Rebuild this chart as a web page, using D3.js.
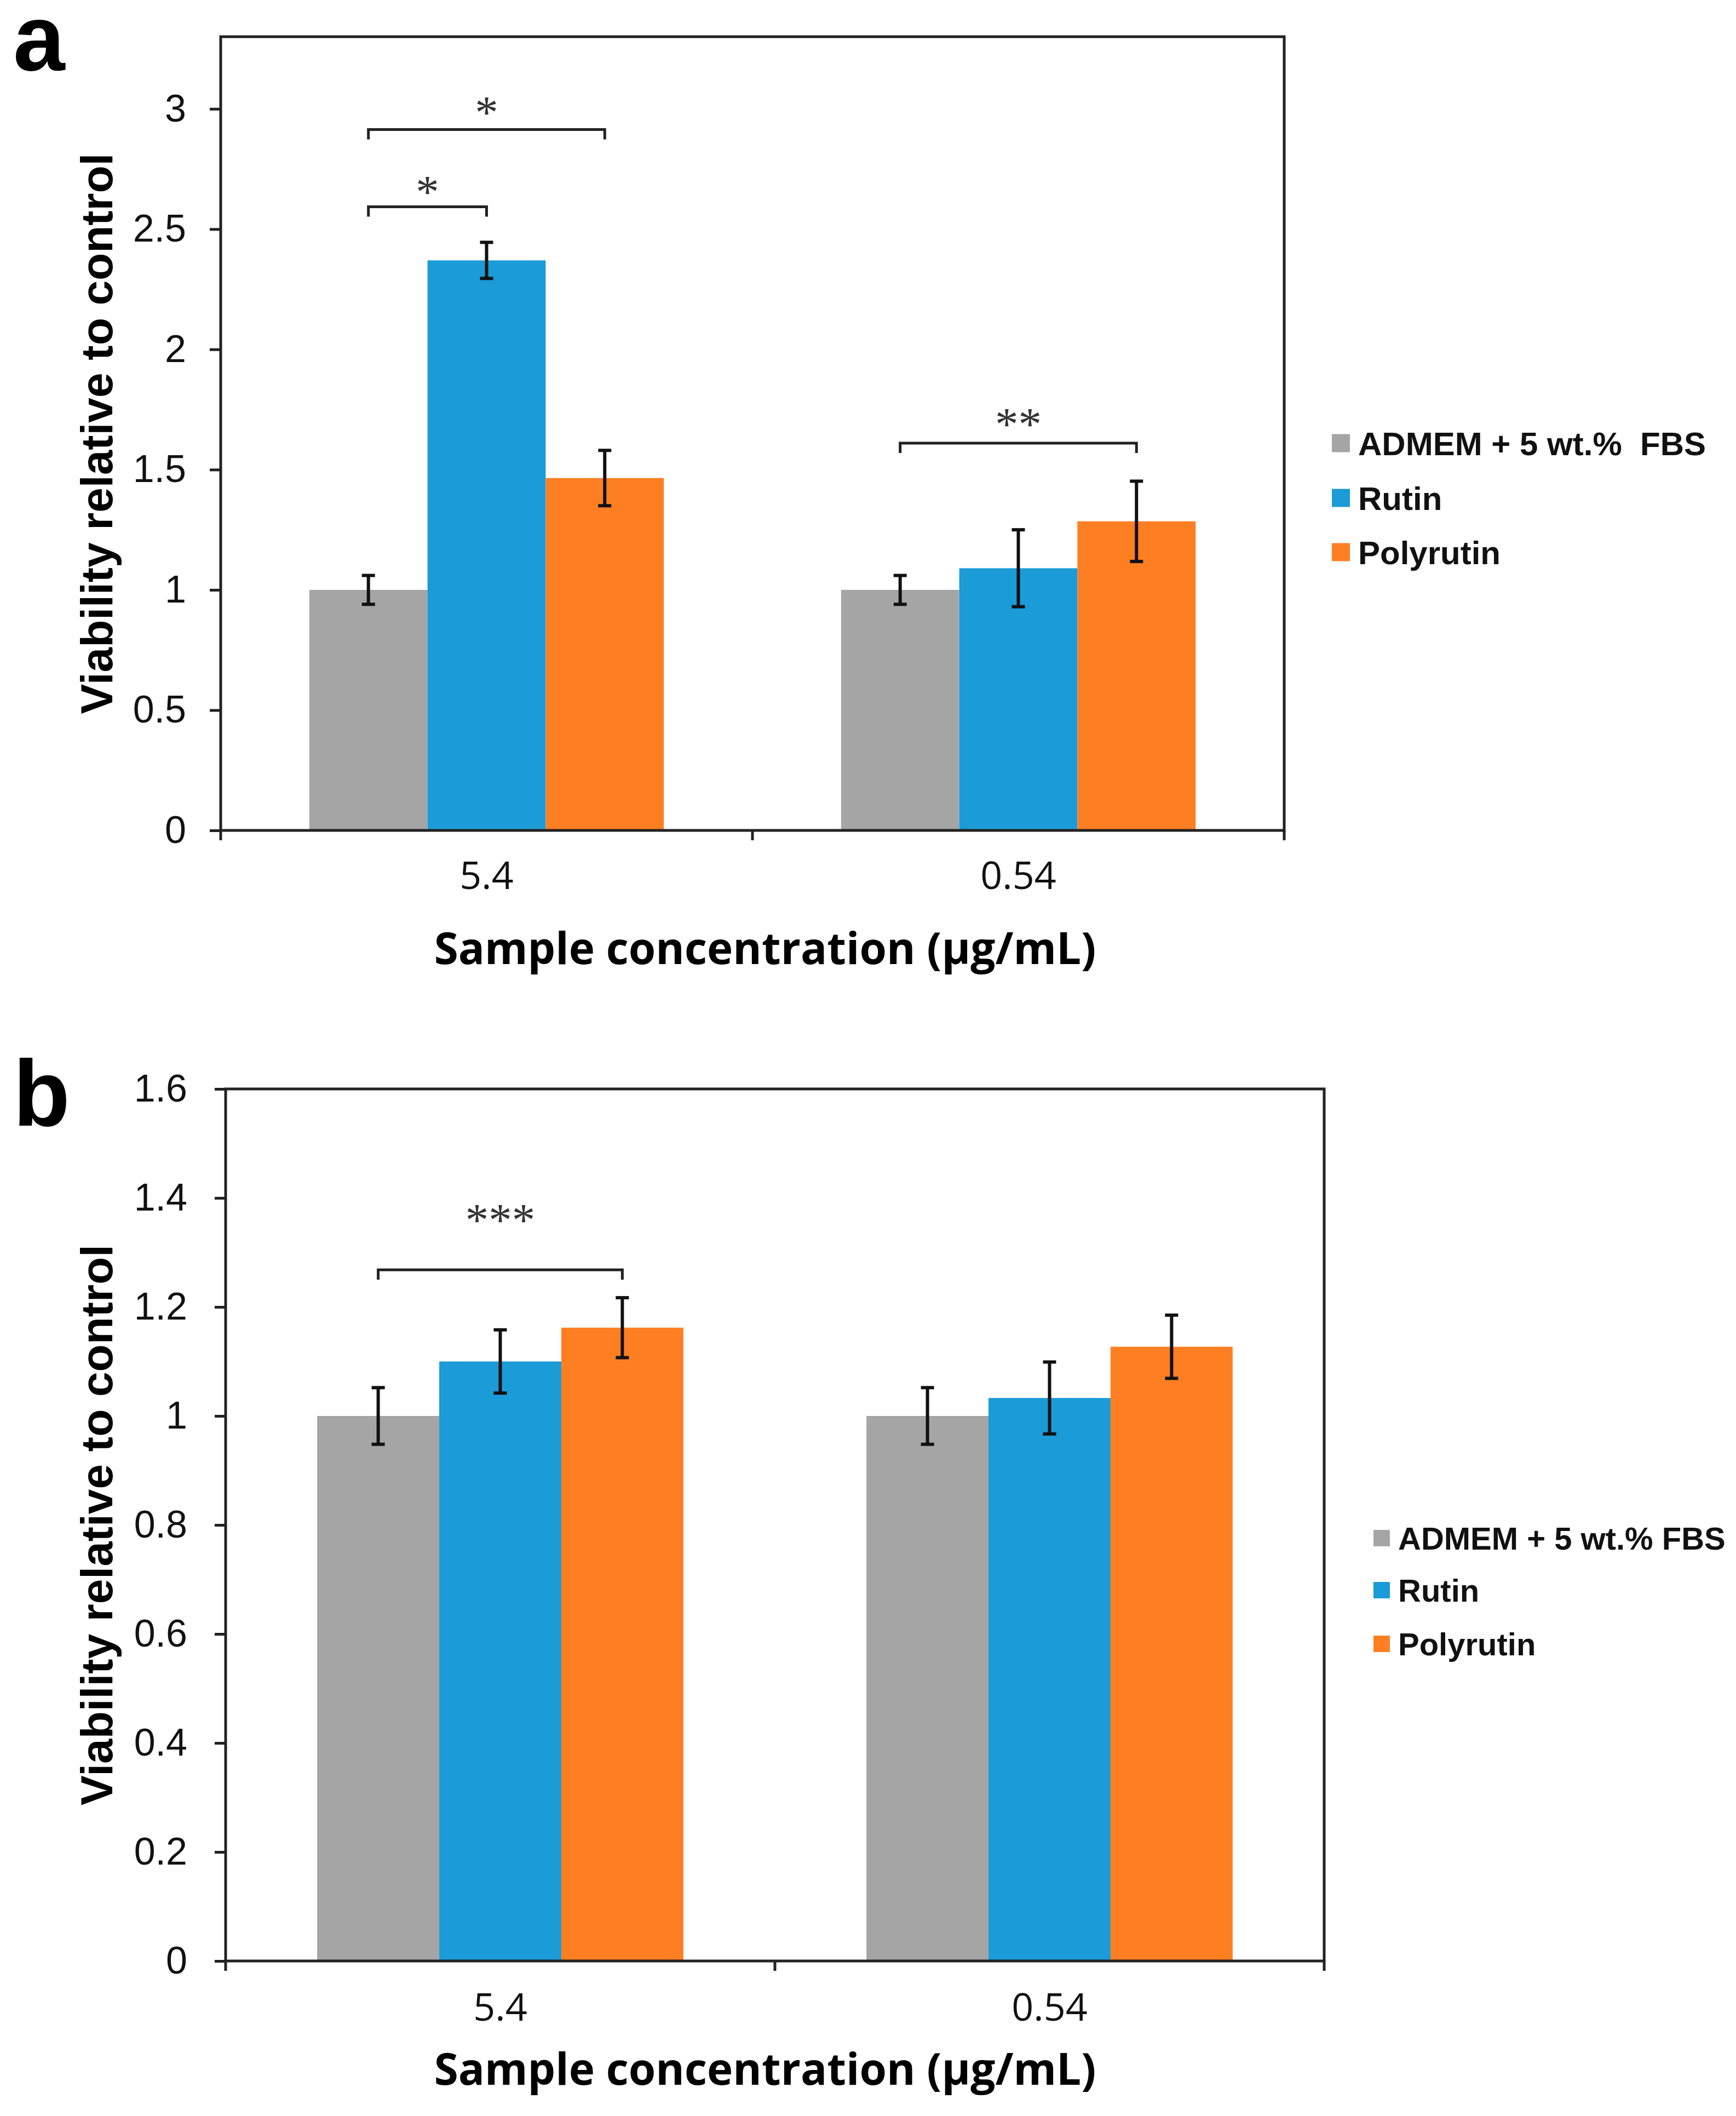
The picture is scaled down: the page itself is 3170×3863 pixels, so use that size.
<!DOCTYPE html>
<html>
<head>
<meta charset="utf-8">
<script src="https://cdn.jsdelivr.net/npm/d3@7"></script>
<style>
  body { margin: 0; background: #fff; }
  .tick-y text { font-family: "Liberation Sans", Arial, sans-serif; }
  .tick-x text { font-family: "Open Sans", sans-serif; }
</style>
</head>
<body>
<div class="chart"></div>
<script>
const categories = ["5.4", "0.54"]
const seriesColors = ["#a5a5a5", "#1b9bd7", "#fe7f22"]
const legendLabelsA = ["ADMEM + 5 wt.%\u00a0 FBS", "Rutin", "Polyrutin"]
const legendLabelsB = ["ADMEM + 5 wt.% FBS", "Rutin", "Polyrutin"]

// viability means and error bars, per category then per series
const meansA = [[1.00, 2.37, 1.465], [1.00, 1.09, 1.285]]
const errorsA = [[0.06, 0.075, 0.115], [0.06, 0.16, 0.167]]
const meansB = [[1.00, 1.10, 1.162], [1.00, 1.033, 1.127]]
const errorsB = [[0.052, 0.058, 0.055], [0.052, 0.066, 0.058]]

const yTicksA = [0, 0.5, 1, 1.5, 2, 2.5, 3]
const yTicksB = [0, 0.2, 0.4, 0.6, 0.8, 1, 1.2, 1.4, 1.6]

// significance brackets: category, series from/to, bracket level, label level
const sigA = [
  { cat: 0, from: 0, to: 1, level: 2.593, labelAt: 2.68, text: "*" },
  { cat: 0, from: 0, to: 2, level: 2.914, labelAt: 3.01, text: "*" },
  { cat: 1, from: 0, to: 2, level: 1.61, labelAt: 1.715, text: "**" }
]
const sigB = [
  { cat: 0, from: 0, to: 2, level: 1.268, labelAt: 1.371, text: "***" }
]

const width = 3170
const height = 3863

const svg = d3.select(".chart")
  .append("svg")
    .attr("width", width)
    .attr("height", height)

svg.append("rect")
    .attr("width", width)
    .attr("height", height)
    .attr("fill", "white")

const drawPanel = p => {
  const xScale = d3.scaleBand()
    .domain(categories)
    .range([p.left, p.right])

  const seriesScale = d3.scaleBand()
    .domain(d3.range(seriesColors.length))
    .range([0, xScale.bandwidth()])
    .paddingInner(0)
    .paddingOuter(0.75)

  const yScale = d3.scaleLinear()
    .domain([0, p.yMax])
    .range([p.bottom, p.top])

  const barX = (c, s) => xScale(categories[c]) + seriesScale(s)
  const barMid = (c, s) => barX(c, s) + seriesScale.bandwidth() / 2

  const g = svg.append("g")

  // panel letter
  g.append("text")
      .attr("x", p.letterX)
      .attr("y", p.letterY)
      .attr("font-family", "Liberation Sans, Arial, sans-serif")
      .attr("font-weight", "bold")
      .attr("font-size", 170)
      .text(p.letter)

  // bars
  const cells = p.means.flatMap((row, c) => row.map((v, s) => ({ c, s, v, e: p.errors[c][s] })))

  g.selectAll(".bar")
    .data(cells)
    .join("rect")
      .attr("class", "bar")
      .attr("x", d => barX(d.c, d.s))
      .attr("y", d => yScale(d.v))
      .attr("width", seriesScale.bandwidth())
      .attr("height", d => yScale(0) - yScale(d.v))
      .attr("fill", d => seriesColors[d.s])

  // error bars
  const errs = g.selectAll(".err")
    .data(cells)
    .join("g")
      .attr("class", "err")
      .attr("stroke", "#111")
      .attr("stroke-width", 6)

  errs.append("line")
      .attr("x1", d => barMid(d.c, d.s))
      .attr("x2", d => barMid(d.c, d.s))
      .attr("y1", d => yScale(d.v + d.e))
      .attr("y2", d => yScale(d.v - d.e))
  errs.append("line")
      .attr("x1", d => barMid(d.c, d.s) - 12)
      .attr("x2", d => barMid(d.c, d.s) + 12)
      .attr("y1", d => yScale(d.v + d.e))
      .attr("y2", d => yScale(d.v + d.e))
  errs.append("line")
      .attr("x1", d => barMid(d.c, d.s) - 12)
      .attr("x2", d => barMid(d.c, d.s) + 12)
      .attr("y1", d => yScale(d.v - d.e))
      .attr("y2", d => yScale(d.v - d.e))

  // plot frame
  g.append("rect")
      .attr("x", p.left)
      .attr("y", p.top)
      .attr("width", p.right - p.left)
      .attr("height", p.bottom - p.top)
      .attr("fill", "none")
      .attr("stroke", "#222")
      .attr("stroke-width", 5)

  // y axis
  g.append("g")
      .attr("class", "tick-y")
      .attr("transform", `translate(${p.left},0)`)
      .call(d3.axisLeft(yScale)
        .tickValues(p.yTicks)
        .tickFormat(d3.format(""))
        .tickSize(20)
        .tickPadding(p.yPad))
      .call(g => g.select(".domain").remove())
      .call(g => g.selectAll(".tick line").attr("stroke", "#222").attr("stroke-width", 5))
      .call(g => g.selectAll(".tick text")
          .attr("font-size", 70)
          .attr("fill", "#111"))

  // x axis: labels at band centres, ticks at band edges
  g.append("g")
      .attr("class", "tick-x")
      .attr("transform", `translate(0,${p.bottom})`)
      .call(d3.axisBottom(xScale).tickSize(0))
      .call(g => g.select(".domain").remove())
      .call(g => g.selectAll(".tick text")
          .attr("y", p.xLabelDy)
          .attr("dy", 0)
          .attr("font-size", 70)
          .attr("fill", "#111"))

  const edges = categories.map(c => xScale(c)).concat([p.right])
  g.selectAll(".x-edge")
    .data(edges)
    .join("line")
      .attr("class", "x-edge")
      .attr("x1", d => d)
      .attr("x2", d => d)
      .attr("y1", p.bottom)
      .attr("y2", p.bottom + 18)
      .attr("stroke", "#222")
      .attr("stroke-width", 5)

  // axis titles
  g.append("text")
      .attr("x", p.xTitleX)
      .attr("y", p.xTitleY)
      .attr("text-anchor", "middle")
      .attr("font-family", "Open Sans, sans-serif")
      .attr("font-weight", "bold")
      .attr("font-size", 80)
      .text("Sample concentration (\u00b5g/mL)")

  g.append("text")
      .attr("transform", `translate(205,${(p.top + p.bottom) / 2}) rotate(-90)`)
      .attr("text-anchor", "middle")
      .attr("font-family", "Liberation Sans, Arial, sans-serif")
      .attr("font-weight", "bold")
      .attr("font-size", 82)
      .text("Viability relative to control")

  // significance brackets
  const sig = g.selectAll(".sig")
    .data(p.sig)
    .join("g")
      .attr("class", "sig")

  sig.append("path")
      .attr("d", d => {
        const x1 = barMid(d.cat, d.from)
        const x2 = barMid(d.cat, d.to)
        const y = yScale(d.level)
        return `M${x1},${y + 18}V${y}H${x2}V${y + 18}`
      })
      .attr("fill", "none")
      .attr("stroke", "#222")
      .attr("stroke-width", 5)

  sig.append("text")
      .attr("x", d => (barMid(d.cat, d.from) + barMid(d.cat, d.to)) / 2)
      .attr("y", d => yScale(d.labelAt))
      .attr("dy", "0.47em")
      .attr("text-anchor", "middle")
      .attr("font-family", "Liberation Serif, serif")
      .attr("font-size", 85)
      .attr("fill", "#333")
      .text(d => d.text)

  // legend
  const legend = g.selectAll(".legend")
    .data(p.legendLabels)
    .join("g")
      .attr("class", "legend")
      .attr("transform", (d, i) => `translate(${p.legendX},${p.legendRows[i]})`)

  legend.append("rect")
      .attr("x", 0)
      .attr("y", -p.legendSq / 2)
      .attr("width", p.legendSq)
      .attr("height", p.legendSq)
      .attr("fill", (d, i) => seriesColors[i])

  legend.append("text")
      .attr("x", p.legendSq + 15)
      .attr("dy", "0.36em")
      .attr("font-family", "Liberation Sans, Arial, sans-serif")
      .attr("font-weight", "bold")
      .attr("font-size", p.legendFont)
      .attr("fill", "#111")
      .text(d => d)
}

drawPanel({
  letter: "a", letterX: 24, letterY: 128,
  left: 403, right: 2345, top: 67, bottom: 1516,
  yMax: 3.3, yTicks: yTicksA, yPad: 43,
  means: meansA, errors: errorsA, sig: sigA,
  xLabelDy: 107, xTitleX: 1397, xTitleY: 1760,
  legendLabels: legendLabelsA, legendX: 2432, legendRows: [809, 909, 1008],
  legendSq: 33, legendFont: 60
})

drawPanel({
  letter: "b", letterX: 24, letterY: 2055,
  left: 412, right: 2418, top: 1988, bottom: 3580,
  yMax: 1.6, yTicks: yTicksB, yPad: 50,
  means: meansB, errors: errorsB, sig: sigB,
  xLabelDy: 109, xTitleX: 1397, xTitleY: 3806,
  legendLabels: legendLabelsB, legendX: 2508, legendRows: [2808, 2903, 3001],
  legendSq: 30, legendFont: 58
})
</script>
</body>
</html>
